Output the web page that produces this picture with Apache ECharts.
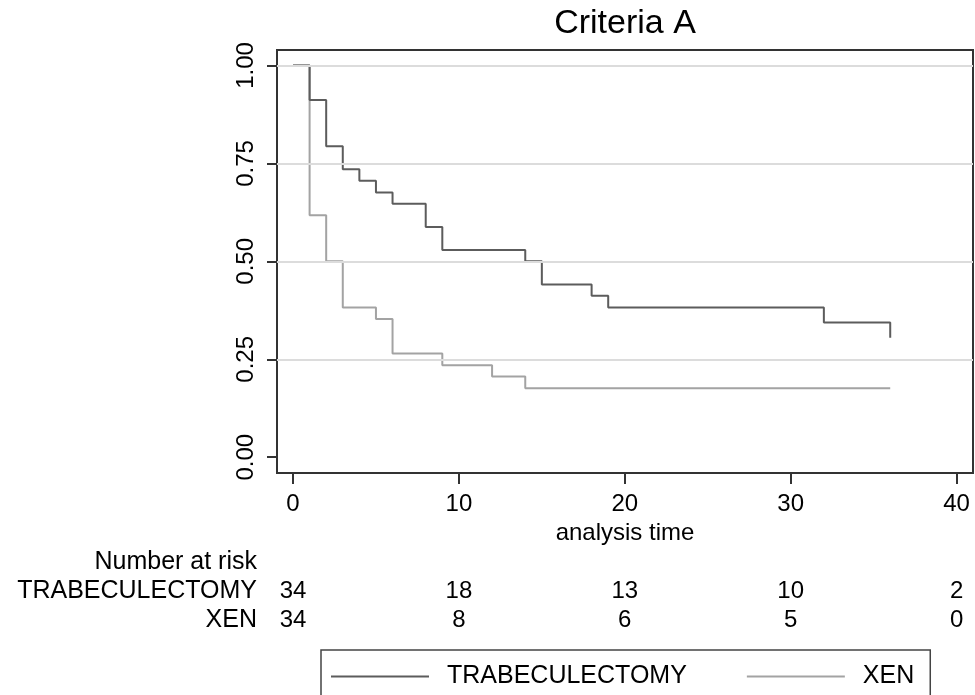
<!DOCTYPE html>
<html>
<head>
<meta charset="utf-8">
<script src="https://cdn.jsdelivr.net/npm/echarts@6/dist/echarts.min.js"></script>
<style>
  html, body { margin: 0; padding: 0; background: #fff; }
  #chart { width: 975px; height: 695px; }
</style>
</head>
<body>
<div id="chart"></div>
<script>
// Kaplan-Meier steps (time, survival)
const trabTimes = [0, 1, 2, 3, 4, 5, 6, 8, 9, 14, 15, 18, 19, 32, 36];
const trabSurv = [1, 0.912, 0.794, 0.735, 0.706, 0.676, 0.647, 0.588, 0.529, 0.5, 0.441, 0.412, 0.382, 0.344, 0.305];
const xenTimes = [0, 1, 2, 3, 5, 6, 9, 12, 14, 36];
const xenSurv = [1, 0.618, 0.5, 0.382, 0.353, 0.265, 0.235, 0.206, 0.176, 0.176];

const xTicks = [0, 10, 20, 30, 40];
const yTicks = [0, 0.25, 0.5, 0.75, 1];
const yGridLines = [0.25, 0.5, 0.75, 1];

// number at risk table
const riskRows = ['Number at risk', 'TRABECULECTOMY', 'XEN'];
const riskTimes = [0, 10, 20, 30, 40];
const trabRisk = [34, 18, 13, 10, 2];
const xenRisk = [34, 8, 6, 5, 0];

const FONT = '"Liberation Sans", Arial, Helvetica, sans-serif';
const chart = echarts.init(document.getElementById('chart'), null, { renderer: 'canvas' });

const riskData = [];
riskTimes.forEach((t, i) => {
  riskData.push([t, 'TRABECULECTOMY', trabRisk[i]]);
  riskData.push([t, 'XEN', xenRisk[i]]);
});

const option = {
  animation: false,
  backgroundColor: '#fff',
  textStyle: { fontFamily: FONT },
  graphic: [{
    type: 'text',
    x: 625,
    y: 7,
    style: {
      text: 'Criteria A',
      textAlign: 'center',
      font: '34px ' + FONT,
      fill: '#000'
    }
  }],
  legend: {
    data: ['TRABECULECTOMY', 'XEN'],
    left: 321,
    top: 650,
    icon: 'rect',
    itemWidth: 98,
    itemHeight: 2,
    itemGap: 60,
    padding: [14, 16, 14, 10],
    borderColor: '#444',
    borderWidth: 1.5,
    borderRadius: 0,
    textStyle: { fontSize: 25, color: '#000', fontFamily: FONT, padding: [0, 0, 0, 13] }
  },
  grid: [
    { left: 277, top: 50, width: 696, height: 423, show: true, borderColor: '#333', borderWidth: 2, backgroundColor: '#fff' },
    { left: 277, top: 547, width: 696, height: 88 }
  ],
  xAxis: [{
    gridIndex: 0,
    type: 'value',
    min: -0.965,
    max: 40.99,
    name: 'analysis time',
    nameLocation: 'middle',
    nameGap: 47,
    nameTextStyle: { fontSize: 24, color: '#000', fontFamily: FONT },
    axisLine: { show: false, onZero: false },
    splitLine: { show: false },
    axisTick: { show: true, inside: false, customValues: xTicks, length: 11, lineStyle: { color: '#333', width: 2 } },
    axisLabel: { customValues: xTicks, margin: 19, fontSize: 24, color: '#000', fontFamily: FONT }
  }, {
    gridIndex: 1,
    type: 'value',
    min: -0.965,
    max: 40.99,
    show: false
  }],
  yAxis: [{
    gridIndex: 0,
    type: 'value',
    min: -0.0403,
    max: 1.0396,
    axisLine: { show: false, onZero: false },
    splitLine: { show: false },
    axisTick: { show: true, inside: false, customValues: yTicks, length: 10, lineStyle: { color: '#333', width: 2 } },
    axisLabel: {
      customValues: yTicks,
      rotate: 90,
      margin: 19,
      fontSize: 24,
      color: '#000',
      fontFamily: FONT,
      formatter: v => v.toFixed(2)
    }
  }, {
    gridIndex: 1,
    type: 'category',
    data: riskRows,
    inverse: true,
    axisLine: { show: false },
    axisTick: { show: false },
    splitLine: { show: false },
    axisLabel: { interval: 0, margin: 20, fontSize: 25, color: '#000', fontFamily: FONT }
  }],
  series: [
    {
      name: 'gridlines',
      type: 'line',
      xAxisIndex: 0,
      yAxisIndex: 0,
      data: [],
      z: 1,
      markLine: {
        silent: true,
        symbol: 'none',
        label: { show: false },
        lineStyle: { color: '#dcdcdc', width: 2, type: 'solid' },
        data: yGridLines.map(v => ({ yAxis: v }))
      }
    },
    {
      name: 'XEN',
      type: 'line',
      step: 'end',
      xAxisIndex: 0,
      yAxisIndex: 0,
      z: 3,
      showSymbol: false,
      symbol: 'none',
      data: xenTimes.map((t, i) => [t, xenSurv[i]]),
      lineStyle: { color: '#a3a3a3', width: 2 },
      itemStyle: { color: '#a3a3a3' }
    },
    {
      name: 'TRABECULECTOMY',
      type: 'line',
      step: 'end',
      xAxisIndex: 0,
      yAxisIndex: 0,
      z: 4,
      showSymbol: false,
      symbol: 'none',
      data: trabTimes.map((t, i) => [t, trabSurv[i]]),
      lineStyle: { color: '#5c5c5c', width: 2 },
      itemStyle: { color: '#5c5c5c' }
    },
    {
      name: 'risk',
      type: 'scatter',
      xAxisIndex: 1,
      yAxisIndex: 1,
      symbolSize: 1,
      itemStyle: { color: '#fff', opacity: 1 },
      data: riskData,
      label: {
        show: true,
        position: 'inside',
        formatter: p => String(p.value[2]),
        fontSize: 24,
        color: '#000',
        textBorderWidth: 0,
        fontFamily: FONT
      }
    }
  ]
};

chart.setOption(option);
</script>
</body>
</html>
